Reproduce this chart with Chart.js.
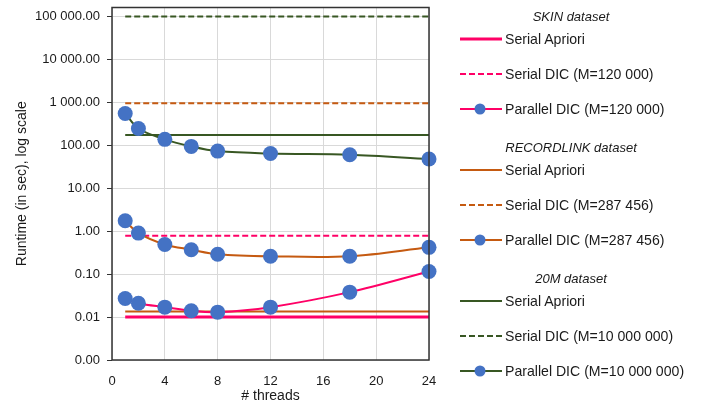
<!DOCTYPE html>
<html>
<head>
<meta charset="utf-8">
<script src="https://cdn.jsdelivr.net/npm/chart.js@4.4.1/dist/chart.umd.min.js"></script>
<style>
    body { margin: 0; background: #fff; }
    #wrap { position: relative; width: 709px; height: 409px; font-family: "Liberation Sans", Arial, sans-serif; color: #1a1a1a; }
    #chart { position: absolute; left: 0; top: 0; }
    .lg-title { position: absolute; left: 480px; width: 182px; text-align: center; font-size: 13px; font-style: italic; line-height: 16px; margin-top: -8px; }
    .lg-item { position: absolute; left: 459px; height: 18px; margin-top: -9px; white-space: nowrap; }
    .lg-item svg { position: absolute; left: 0; top: 2px; }
    .lg-item span { position: absolute; left: 46px; top: 0; font-size: 15px; line-height: 18px; transform: scaleX(0.94); transform-origin: left center; }
</style>
</head>
<body>
<div id="wrap">
    <canvas id="chart" width="709" height="409"></canvas>
    <div id="legend"></div>
</div>
<script>
// Data
const threads = [1, 2, 4, 6, 8, 12, 18, 24];
const datasetNames = ['SKIN dataset', 'RECORDLINK dataset', '20M dataset'];
const dicLabels = ['M=120 000', 'M=287 456', 'M=10 000 000'];
const serialApriori = [0.0100, 0.0135, 172];
const serialDIC = [0.78, 950, 100000];
const skinParallel = [0.027, 0.021, 0.017, 0.014, 0.013, 0.017, 0.038, 0.115];
const recordParallel = [1.74, 0.90, 0.49, 0.37, 0.29, 0.26, 0.26, 0.42];
const m20Parallel = [550, 245, 137, 94, 73, 64, 60, 48];
const parallelValues = [skinParallel, recordParallel, m20Parallel];
const yTicks = [0.001, 0.01, 0.1, 1, 10, 100, 1000, 10000, 100000];
const xTicks = [0, 4, 8, 12, 16, 20, 24];

// Styles
const colors = ['#FF0066', '#C55A11', '#385723'];
const markerColor = '#4472C4';
const dash = [6, 3];
const FONT = '"Liberation Sans", Arial, sans-serif';

function fmt(v) {
    const s = v.toFixed(2);
    const [intPart, dec] = s.split('.');
    return intPart.replace(/\B(?=(\d{3})+(?!\d))/g, ' ') + '.' + dec;
}

// Build datasets
const datasets = [];
datasetNames.forEach((name, g) => {
    const first = threads[0], last = threads[threads.length - 1];
    datasets.push({
        label: 'Serial Apriori',
        data: [{ x: first, y: serialApriori[g] }, { x: last, y: serialApriori[g] }],
        borderColor: colors[g],
        borderWidth: g === 0 ? 3 : 2,
        pointRadius: 0,
        order: 3,
        clip: false
    });
    datasets.push({
        label: 'Serial DIC (' + dicLabels[g] + ')',
        data: [{ x: first, y: serialDIC[g] }, { x: last, y: serialDIC[g] }],
        borderColor: colors[g],
        borderWidth: 2,
        borderDash: dash,
        pointRadius: 0,
        order: 2,
        clip: false
    });
    datasets.push({
        label: 'Parallel DIC (' + dicLabels[g] + ')',
        data: threads.map((t, i) => ({ x: t, y: parallelValues[g][i] })),
        borderColor: colors[g],
        borderWidth: 2,
        tension: 0.35,
        pointRadius: 7.5,
        pointBackgroundColor: markerColor,
        pointBorderColor: markerColor,
        pointBorderWidth: 0,
        order: 1,
        clip: false
    });
});

// plot box border
const boxPlugin = {
    id: 'box',
    afterDatasetsDraw(chart) {
        const { ctx, chartArea: a } = chart;
        ctx.save();
        ctx.strokeStyle = '#333';
        ctx.lineWidth = 1.5;
        ctx.strokeRect(a.left, a.top, a.right - a.left, a.bottom - a.top);
        ctx.restore();
    }
};

new Chart(document.getElementById('chart'), {
    type: 'line',
    data: { datasets },
    options: {
        responsive: false,
        animation: false,
        layout: { padding: { left: 0, right: 280, top: 3, bottom: 0 } },
        plugins: { legend: { display: false }, tooltip: { enabled: false } },
        scales: {
            x: {
                type: 'linear',
                min: 0,
                max: 24,
                afterBuildTicks: s => { s.ticks = xTicks.map(v => ({ value: v })); },
                afterFit: s => { s.height = 49; },
                grid: { color: '#d9d9d9', drawTicks: false },
                border: { display: false },
                ticks: { color: '#1a1a1a', padding: 14, font: { family: FONT, size: 13 } },
                title: { display: true, text: '# threads', color: '#1a1a1a', padding: { top: 2, bottom: 4 }, font: { family: FONT, size: 14 } }
            },
            y: {
                type: 'logarithmic',
                min: 0.001,
                max: 161000,
                afterBuildTicks: s => { s.ticks = yTicks.map(v => ({ value: v })); },
                afterFit: s => { s.width = 112; s.paddingTop = 0; s.paddingBottom = 0; },
                grid: { color: '#d9d9d9', tickColor: '#333', tickLength: 5 },
                border: { display: false },
                ticks: { color: '#1a1a1a', padding: 7, font: { family: FONT, size: 13 }, callback: v => fmt(v) },
                title: { display: true, text: 'Runtime (in sec), log scale', color: '#1a1a1a', padding: 14, font: { family: FONT, size: 14 } }
            }
        }
    },
    plugins: [boxPlugin]
});

// HTML legend, built from the dataset list
const legend = document.getElementById('legend');
datasetNames.forEach((name, g) => {
    const titleY = 17 + g * 131;
    const t = document.createElement('div');
    t.className = 'lg-title';
    t.style.top = titleY + 'px';
    t.textContent = name;
    legend.appendChild(t);
    for (let k = 0; k < 3; k++) {
        const ds = datasets[g * 3 + k];
        const item = document.createElement('div');
        item.className = 'lg-item';
        item.style.top = (titleY + 22 + k * 35) + 'px';
        const dashAttr = ds.borderDash ? ' stroke-dasharray="6 3"' : '';
        const marker = ds.pointRadius ? '<circle cx="21" cy="7" r="5.5" fill="' + markerColor + '"/>' : '';
        item.innerHTML = '<svg width="44" height="14"><line x1="1" y1="7" x2="43" y2="7" stroke="' + ds.borderColor +
            '" stroke-width="' + ds.borderWidth + '"' + dashAttr + '/>' + marker + '</svg><span>' + ds.label + '</span>';
        legend.appendChild(item);
    }
});
</script>
</body>
</html>
